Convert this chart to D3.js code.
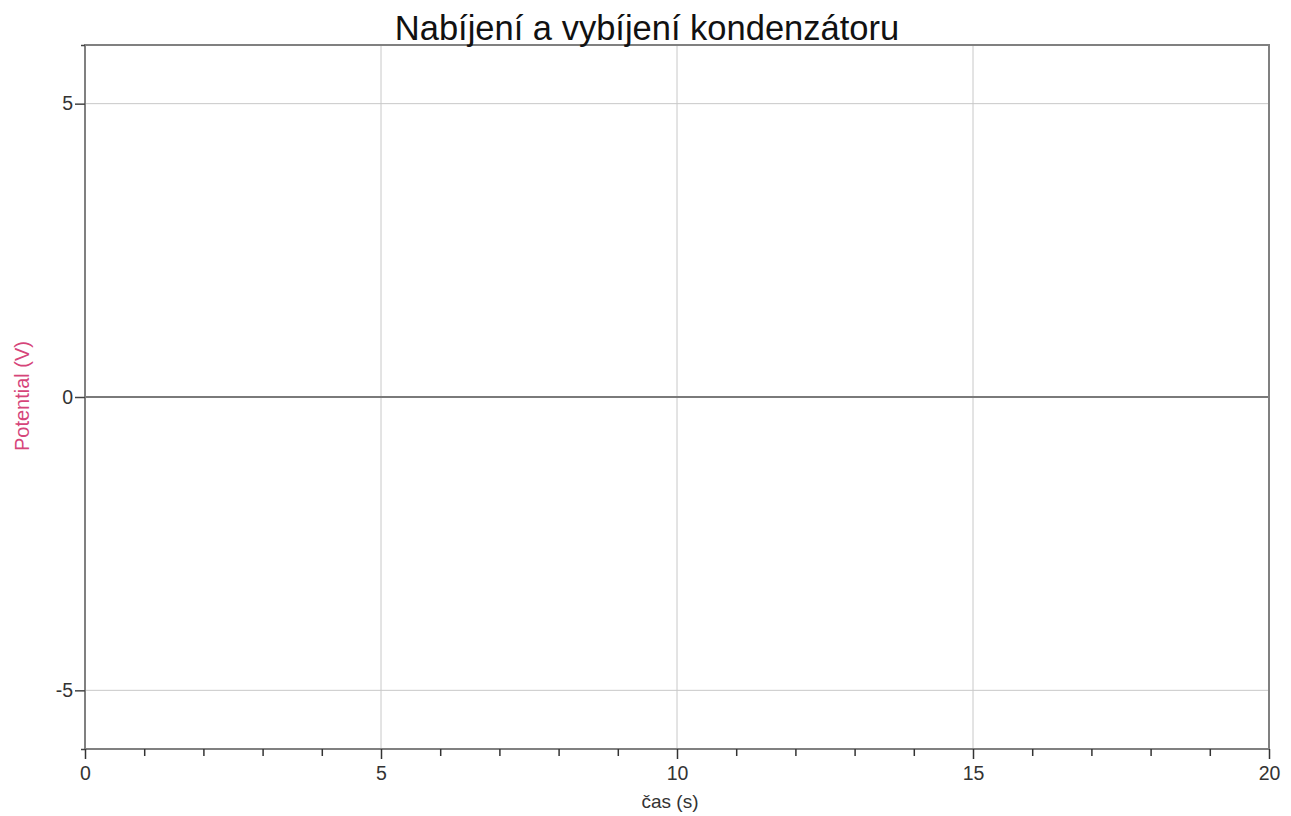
<!DOCTYPE html>
<html><head><meta charset="utf-8">
<script src="https://cdn.jsdelivr.net/npm/d3@7"></script>
<style>body{margin:0;background:#fff;}text{font-family:"Liberation Sans",Arial,sans-serif;}</style>
</head><body><svg id="c" width="1291" height="816"></svg>
<script>
const title = "Nabíjení a vybíjení kondenzátoru";
const xTitle = "čas (s)";
const yTitle = "Potential (V)";
const xDomain = [0, 20];
const yDomain = [-6, 6];
const xMajorTicks = [0, 5, 10, 15, 20];
const xMinorTicks = [1,2,3,4,6,7,8,9,11,12,13,14,16,17,18,19];
const yMajorTicks = [-5, 0, 5];
const time = [0, 20];
const potential = [0, 0];

const svg = d3.select("#c");
const m = {l:85, r:1269, t:45, b:749};
const x = d3.scaleLinear().domain(xDomain).range([m.l, m.r]);
const y = d3.scaleLinear().domain(yDomain).range([m.b, m.t]);
const fmt = d => String(d);

// grid
svg.append("g").selectAll("line").data(xMajorTicks.slice(1,-1)).join("line")
  .attr("x1", d=>x(d)).attr("x2", d=>x(d)).attr("y1", m.t).attr("y2", m.b)
  .attr("stroke", "#c8c8c8").attr("stroke-width", 1);
svg.append("g").selectAll("line").data(yMajorTicks).join("line")
  .attr("y1", d=>y(d)).attr("y2", d=>y(d)).attr("x1", m.l).attr("x2", m.r)
  .attr("stroke", "#c8c8c8").attr("stroke-width", 1);

// data line
const pts = time.map((t,i)=>[t, potential[i]]);
svg.append("path").datum(pts)
  .attr("d", d3.line().x(d=>x(d[0])).y(d=>y(d[1])))
  .attr("fill","none").attr("stroke","#7a7a7a").attr("stroke-width",2.2);

// frame
svg.append("rect").attr("x", m.l).attr("y", m.t).attr("width", m.r-m.l).attr("height", m.b-m.t)
  .attr("fill","none").attr("stroke","#808080").attr("stroke-width",2);

// x axis major
const xAxis = d3.axisBottom(x).tickValues(xMajorTicks).tickSize(10).tickPadding(7).tickFormat(fmt);
const gx = svg.append("g").attr("transform", `translate(0,${m.b})`).call(xAxis);
gx.select(".domain").remove();
gx.selectAll("line").attr("stroke","#333").attr("stroke-width",1.5);
gx.selectAll("text").attr("font-size",19.5).attr("fill","#333").attr("font-family","Liberation Sans, Arial, sans-serif");
// x minor
const xMinor = d3.axisBottom(x).tickValues(xMinorTicks).tickSize(7).tickFormat("");
const gxm = svg.append("g").attr("transform", `translate(0,${m.b})`).call(xMinor);
gxm.select(".domain").remove();
gxm.selectAll("line").attr("stroke","#333").attr("stroke-width",1.5);

// y axis
const yAxis = d3.axisLeft(y).tickValues(yMajorTicks).tickSize(10).tickPadding(2).tickFormat(fmt);
const gy = svg.append("g").attr("transform", `translate(${m.l},0)`).call(yAxis);
gy.select(".domain").remove();
gy.selectAll("line").attr("stroke","#444").attr("stroke-width",1.5);
gy.selectAll("text").attr("font-size",19.5).attr("fill","#333").attr("font-family","Liberation Sans, Arial, sans-serif");
const yEnd = d3.axisLeft(y).tickValues(yDomain).tickSize(4).tickFormat("");
const gye = svg.append("g").attr("transform", `translate(${m.l},0)`).call(yEnd);
gye.select(".domain").remove();
gye.selectAll("line").attr("stroke","#444").attr("stroke-width",1.5);

// titles
svg.append("text").attr("x", 647).attr("y", 40).attr("text-anchor","middle")
  .attr("font-size",34.5).attr("fill","#111").text(title);
svg.append("text").attr("x", 670).attr("y", 808).attr("text-anchor","middle")
  .attr("font-size",19).attr("fill","#333").text(xTitle);
svg.append("text").attr("transform", `translate(29,396) rotate(-90)`).attr("text-anchor","middle")
  .attr("font-size",20).attr("fill","#d6457a").text(yTitle);
</script></body></html>
